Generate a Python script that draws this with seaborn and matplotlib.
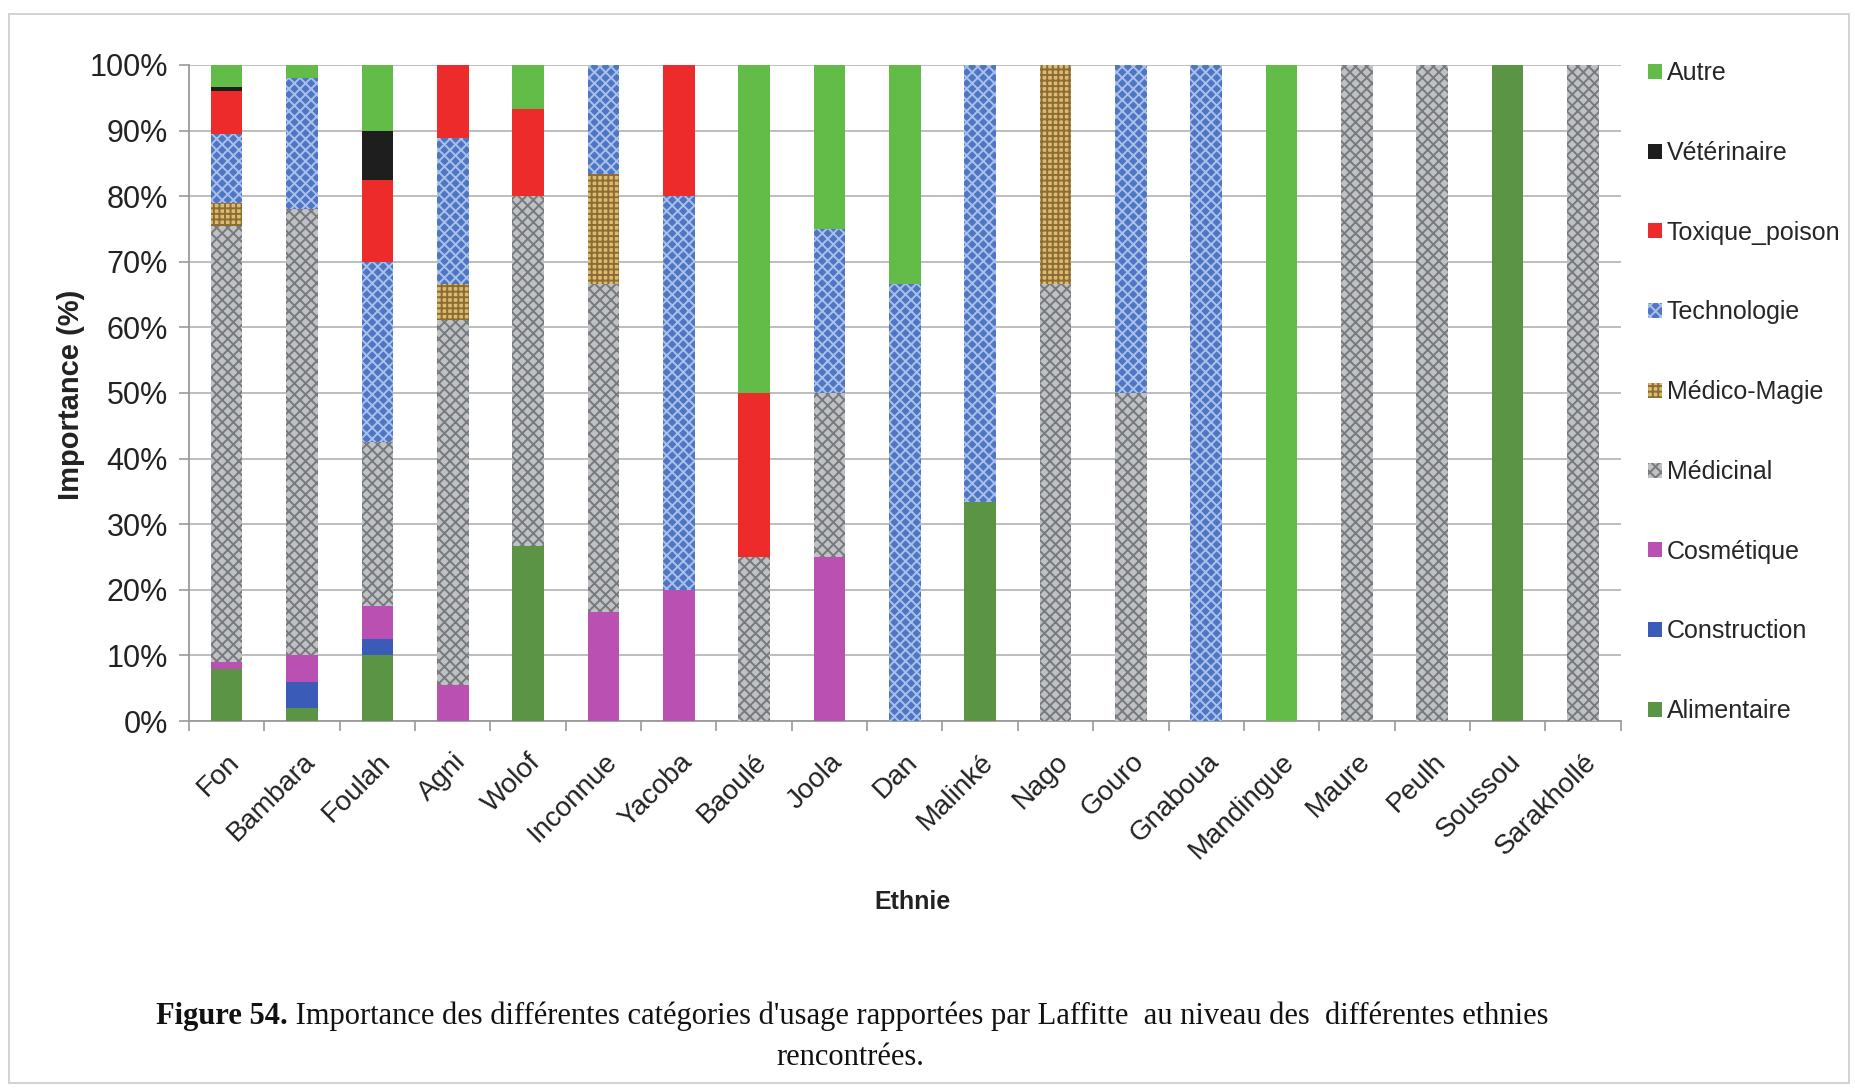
import numpy as np
import matplotlib
matplotlib.use('Agg')
import matplotlib.pyplot as plt
import seaborn as sns
import pandas as pd
from matplotlib.patches import Rectangle, Patch
from matplotlib.ticker import FixedLocator, PercentFormatter

sns.set_theme(style='whitegrid')
plt.rcParams['font.family'] = ['Liberation Sans', 'DejaVu Sans']
plt.rcParams['hatch.linewidth'] = 1.4

# ---------------------------------------------------------------
ethnies = ['Fon', 'Bambara', 'Foulah', 'Agni', 'Wolof', 'Inconnue', 'Yacoba',
           'Baoulé', 'Joola', 'Dan', 'Malinké', 'Nago', 'Gouro', 'Gnaboua',
           'Mandingue', 'Maure', 'Peulh', 'Soussou', 'Sarakhollé']

alimentaire  = [8, 2, 10, 0, 26.67, 0, 0, 0, 0, 0, 33.33, 0, 0, 0, 0, 0, 0, 100, 0]
construction = [0, 4, 2.5, 0, 0, 0, 0, 0, 0, 0, 0, 0, 0, 0, 0, 0, 0, 0, 0]
cosmetique   = [1, 4, 5, 5.56, 0, 16.67, 20, 0, 25, 0, 0, 0, 0, 0, 0, 0, 0, 0, 0]
medicinal    = [66.5, 68, 25, 55.56, 53.33, 50, 0, 25, 25, 0, 0, 66.67, 50, 0, 0, 100, 100, 0, 100]
medico_magie = [3.5, 0, 0, 5.56, 0, 16.67, 0, 0, 0, 0, 0, 33.33, 0, 0, 0, 0, 0, 0, 0]
technologie  = [10.5, 20, 27.5, 22.22, 0, 16.67, 60, 0, 25, 66.67, 66.67, 0, 50, 100, 0, 0, 0, 0, 0]
toxique      = [6.5, 0, 12.5, 11.11, 13.33, 0, 20, 25, 0, 0, 0, 0, 0, 0, 0, 0, 0, 0, 0]
veterinaire  = [0.7, 0, 7.5, 0, 0, 0, 0, 0, 0, 0, 0, 0, 0, 0, 0, 0, 0, 0, 0]
autre        = [3.3, 2, 10, 0, 6.67, 0, 0, 50, 25, 33.33, 0, 0, 0, 0, 100, 0, 0, 0, 0]

usages = ['Alimentaire', 'Construction', 'Cosmétique', 'Médicinal', 'Médico-Magie',
          'Technologie', 'Toxique_poison', 'Vétérinaire', 'Autre']

df = pd.DataFrame(dict(zip(usages, [alimentaire, construction, cosmetique, medicinal,
                                    medico_magie, technologie, toxique, veterinaire, autre])),
                  index=ethnies)

# face colour, hatch, hatch colour
styles = {
    'Alimentaire':    ('#5b9444', None, None),
    'Construction':   ('#3a5bb8', None, None),
    'Cosmétique':     ('#bb50b3', None, None),
    'Médicinal':      ('#bfc1c3', 'xxx', '#767a7e'),
    'Médico-Magie':   ('#dcbb72', '+++', '#8c6c33'),
    'Technologie':    ('#4f76c2', 'xxx', '#a9c0ec'),
    'Toxique_poison': ('#ee2b2b', None, None),
    'Vétérinaire':    ('#1e1e1e', None, None),
    'Autre':          ('#63bb48', None, None),
}

# ---------------------------------------------------------------
fig = plt.figure(figsize=(18.56, 10.88), dpi=100)
ax = fig.add_axes([0.1018, 0.3373, 0.7714, 0.603])

x = np.arange(len(ethnies))
bottom = np.zeros(len(ethnies))
for u in usages:
    vals = df[u].values / 100
    fc, hatch, hc = styles[u]
    ax.bar(x, vals, bottom=bottom, width=0.42, color=fc, hatch=hatch,
           edgecolor=hc if hc else fc, linewidth=0, zorder=3)
    bottom += vals

ax.set_xlim(-0.5, len(ethnies) - 0.5)
ax.set_ylim(0, 1)
ax.yaxis.set_major_locator(FixedLocator(np.arange(0, 1.01, 0.1)))
ax.yaxis.set_major_formatter(PercentFormatter(1.0, decimals=0))
ax.grid(axis='y', color='#b8b8b8', linewidth=1.3)
ax.grid(axis='x', visible=False)

ax.set_xticks(x)
ax.set_xticklabels(ethnies, rotation=45, ha='right', rotation_mode='anchor')
ax.set_xticks(np.arange(-0.5, len(ethnies)), minor=True)
ax.tick_params(axis='x', which='major', length=0, pad=20, labelsize=20, colors='#222222')
ax.tick_params(axis='x', which='minor', length=7, width=1.2, color='#9a9a9a', bottom=True)
ax.tick_params(axis='y', length=7, width=1.2, color='#9a9a9a', left=True, labelsize=22,
               labelcolor='#222222', pad=8)

for s in ['top', 'right']:
    ax.spines[s].set_visible(False)
for s in ['left', 'bottom']:
    ax.spines[s].set_color('#9a9a9a')
    ax.spines[s].set_linewidth(1.3)

fig.text(0.0383, 0.637, 'Importance (%)', rotation=90, ha='center', va='center',
         fontsize=21, fontweight='bold', color='#222222')
fig.text(0.4914, 0.171, 'Ethnie', ha='center', va='center',
         fontsize=18, fontweight='bold', color='#222222')

# legend, top entry first
handles = []
for u in usages[::-1]:
    fc, hatch, hc = styles[u]
    handles.append(Patch(facecolor=fc, hatch=hatch, edgecolor=hc if hc else fc, linewidth=0, label=u))
fig.legend(handles=handles, loc='upper left', bbox_to_anchor=(0.8825, 0.953),
           frameon=False, fontsize=18, handlelength=0.55, handleheight=0.55,
           handletextpad=0.2, labelspacing=2.23, borderaxespad=0)

# caption
cap1 = ' Importance des différentes catégories d\'usage rapportées par Laffitte  au niveau des  différentes ethnies'
fig.canvas.draw()
r = fig.canvas.get_renderer()
t1 = fig.text(0, 0.066, 'Figure 54.', fontsize=22, fontweight='bold', family='Liberation Serif',
              va='center', color='#111111')
t2 = fig.text(0, 0.066, cap1, fontsize=22, family='Liberation Serif', va='center', color='#111111')
w1 = t1.get_window_extent(r).width / fig.bbox.width
w2 = t2.get_window_extent(r).width / fig.bbox.width
x0 = 0.459 - (w1 + w2) / 2
t1.set_x(x0)
t2.set_x(x0 + w1)
fig.text(0.458, 0.028, 'rencontrées.', fontsize=22, family='Liberation Serif',
         ha='center', va='center', color='#111111')

fig.add_artist(Rectangle((0.005, 0.005), 0.991, 0.982, transform=fig.transFigure,
                         fill=False, edgecolor='#cfcfcf', linewidth=1.3))

fig.savefig('out.png', dpi=100, facecolor='white')
